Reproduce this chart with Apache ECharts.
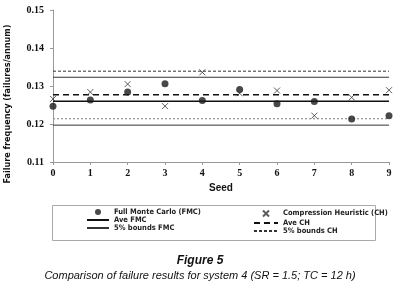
<!DOCTYPE html>
<html>
<head>
<meta charset="utf-8">
<script src="https://cdn.jsdelivr.net/npm/echarts@6/dist/echarts.min.js"></script>
<style>
  html, body { margin: 0; padding: 0; background: #fff; }
  #chart { width: 400px; height: 281px; }
</style>
</head>
<body>
<div id="chart"></div>
<script>
// seeds and failure frequencies
var seeds = [0, 1, 2, 3, 4, 5, 6, 7, 8, 9];
var fmcValues = [0.1247, 0.1263, 0.1284, 0.1306, 0.1262, 0.1291, 0.1253, 0.1259, 0.1213, 0.1222];
var chValues = [0.1266, 0.1284, 0.1305, 0.1247, 0.1336, 0.1281, 0.1288, 0.1222, 0.1270, 0.1289];
var aveFmc = 0.1260;
var boundsFmc = [0.1197, 0.1323];
var aveCh = 0.1277;
var boundsCh = [0.1214, 0.1339];
var yTicks = [0.11, 0.12, 0.13, 0.14, 0.15];
var yTitle = 'Failure frequency (failures/annum)';

var chart = echarts.init(document.getElementById('chart'));

function pairs(xs, ys) {
  return xs.map(function (x, i) { return [x, ys[i]]; });
}
function flat(v) {
  return [[seeds[0], v], [seeds[seeds.length - 1], v]];
}
function hline(name, v, color, width, type) {
  return {
    name: name, type: 'line', data: flat(v), symbol: 'none', silent: true,
    itemStyle: { color: color, opacity: 0 },
    lineStyle: { color: color, width: width, type: type }, z: 1
  };
}

var condensed = 'DejaVu Sans Condensed, Liberation Sans Narrow, sans-serif';
var legendText = { fontFamily: condensed, fontWeight: 'bold', fontSize: 7.5, lineHeight: 8, color: '#222' };

var option = {
  animation: false,
  title: [
    { text: 'Figure 5', left: 'center', top: 250,
      textStyle: { fontFamily: 'Liberation Sans, sans-serif', fontStyle: 'italic', fontWeight: 'bold', fontSize: 12, color: '#111' } },
    { text: 'Comparison of failure results for system 4 (SR = 1.5; TC = 12 h)', left: 'center', top: 265,
      textStyle: { fontFamily: 'Liberation Sans, sans-serif', fontStyle: 'italic', fontWeight: 'normal', fontSize: 11, color: '#111' } }
  ],
  grid: { left: 53, right: 11, top: 10, bottom: 119, outerBoundsMode: 'none' },
  xAxis: {
    type: 'value', min: 0, max: 9, interval: 1,
    name: 'Seed', nameLocation: 'middle', nameGap: 21,
    nameTextStyle: { fontFamily: 'Liberation Sans, sans-serif', fontWeight: 'bold', fontSize: 10, color: '#111' },
    axisLine: { lineStyle: { color: '#999', width: 1 } },
    axisTick: { show: true, length: 3, lineStyle: { color: '#999' } },
    axisLabel: { margin: 6, fontFamily: 'Liberation Serif, serif', fontWeight: 'bold', fontSize: 10, color: '#111' },
    splitLine: { show: false }
  },
  yAxis: {
    type: 'value', min: yTicks[0], max: yTicks[yTicks.length - 1], interval: 0.01,
    axisLine: { show: true, lineStyle: { color: '#999', width: 1 } },
    axisTick: { show: true, length: 3, lineStyle: { color: '#999' } },
    axisLabel: { margin: 9, fontFamily: 'Liberation Serif, serif', fontWeight: 'bold', fontSize: 10, color: '#111',
      formatter: function (v) { return v.toFixed(2); } },
    splitLine: { show: false }
  },
  legend: [
    { orient: 'vertical', left: 81, top: 203, itemWidth: 22, itemHeight: 6, itemGap: 0, textStyle: legendText,
      data: ['Full Monte Carlo (FMC)', 'Ave FMC', '5% bounds FMC'] },
    { orient: 'vertical', left: 248, top: 203, itemWidth: 24, itemHeight: 6, itemGap: 0, textStyle: legendText,
      data: ['Compression Heuristic (CH)', 'Ave CH', '5% bounds CH'] }
  ],
  graphic: [
    { type: 'text', x: 8, y: 104, rotation: Math.PI / 2,
      style: { text: yTitle, align: 'center', verticalAlign: 'middle',
        font: 'bold 9px ' + condensed, fill: '#111' }, silent: true },
    { type: 'rect', left: 50, top: 203, shape: { width: 323, height: 35 },
      style: { fill: 'none', stroke: '#aaa', lineWidth: 1 }, silent: true }
  ],
  series: [
    hline('5% bounds CH', boundsCh[1], '#333', 1, [3, 2]),
    hline('5% bounds FMC', boundsFmc[1], '#333', 1, 'solid'),
    hline('Ave CH', aveCh, '#111', 1.6, [6, 4]),
    hline('Ave FMC', aveFmc, '#111', 1.6, 'solid'),
    hline('5% bounds CH', boundsCh[0], '#999', 1.3, [2, 2]),
    hline('5% bounds FMC', boundsFmc[0], '#333', 1, 'solid'),
    {
      name: 'Full Monte Carlo (FMC)', type: 'scatter', data: pairs(seeds, fmcValues),
      symbol: 'circle', symbolSize: 7, itemStyle: { color: '#1a1a1a' }, z: 3
    },
    {
      name: 'Compression Heuristic (CH)', type: 'scatter', data: pairs(seeds, chValues),
      symbol: 'path://M0,0L10,10M10,0L0,10', symbolSize: 6,
      itemStyle: { color: 'none', borderColor: '#333', borderWidth: 1 }, z: 4
    }
  ]
};

chart.setOption(option);
</script>
</body>
</html>
